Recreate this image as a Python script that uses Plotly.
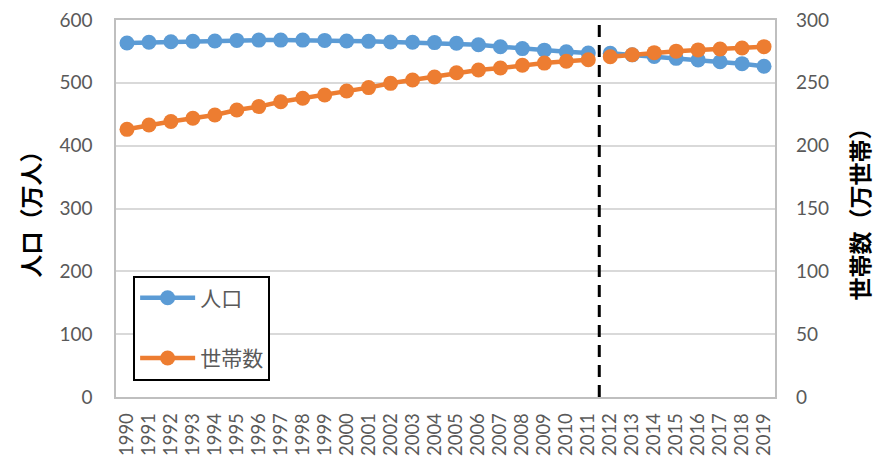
import plotly.graph_objects as go

years = [str(y) for y in range(1990, 2020)]
population = [563.5, 564.5, 565.5, 566.0, 566.5, 567.5, 568.0, 568.0, 568.0, 567.5,
              566.5, 566.0, 565.0, 564.5, 564.0, 563.0, 560.5, 557.5, 554.5, 552.0,
              549.5, 547.5, 547.0, 544.5, 542.0, 539.0, 536.5, 533.5, 530.5, 526.5]
households = [213.0, 216.5, 219.2, 221.8, 224.4, 228.4, 231.1, 235.0, 237.7, 240.3,
              243.5, 246.2, 249.6, 252.3, 254.6, 258.0, 260.2, 261.8, 264.0, 265.7,
              267.2, 268.4, 270.8, 272.4, 274.0, 275.2, 276.2, 276.9, 277.7, 278.8]
split_year = "2012"
pop_name = "人口"
hh_name = "世帯数"
left_title = "人口（万人）"
right_title = "世帯数（万世帯）"

blue = "#5B9BD5"
orange = "#ED7D31"
font = "Lato, 'Noto Sans CJK JP', sans-serif"
cjk = "'Noto Sans CJK JP', sans-serif"

k = years.index(split_year)

fig = go.Figure()
segments = [(0, k), (k, len(years))]
for series, name, color, axis in [(population, pop_name, blue, "y"), (households, hh_name, orange, "y2")]:
    for i, (a, b) in enumerate(segments):
        fig.add_trace(go.Scatter(
            x=years[a:b], y=series[a:b], name=name, yaxis=axis,
            mode="lines+markers", legendgroup=name, showlegend=(i == 0),
            line=dict(color=color, width=4.5),
            marker=dict(color=color, size=15),
        ))

fig.add_shape(type="line", xref="x", yref="paper", x0=k - 0.5, x1=k - 0.5, y0=0, y1=1,
              line=dict(color="black", width=3, dash="12px,8px"))

fig.update_layout(
    width=877, height=461,
    margin=dict(l=116, r=102, t=20, b=64),
    paper_bgcolor="white", plot_bgcolor="white",
    font=dict(family=font, color="#595959", size=19),
    showlegend=True,
    legend=dict(x=0.026, y=0.322, xanchor="left", yanchor="top",
                bgcolor="white", bordercolor="black", borderwidth=2,
                font=dict(family=cjk, size=21, color="#595959"),
                traceorder="grouped", tracegroupgap=30,
                itemwidth=55, entrywidth=140),
    xaxis=dict(type="category", range=[-0.5, len(years) - 0.5], tickangle=-90,
               tickmode="array", tickvals=years, ticktext=years, automargin=False,
               showgrid=False, showline=True, linecolor="#bfbfbf", linewidth=1.5, mirror=True,
               ticks="", tickfont=dict(size=18.5), ticklabelstandoff=7),
    yaxis=dict(range=[0, 600], dtick=100, showgrid=True, gridcolor="#d9d9d9", gridwidth=1.5,
               showline=True, linecolor="#bfbfbf", linewidth=1.5, mirror=True, zeroline=False,
               ticks="", ticklabelstandoff=18, automargin=False,
               title=dict(text=left_title, font=dict(family=cjk, size=23, color="black", weight="bold"), standoff=12)),
    yaxis2=dict(range=[0, 300], dtick=50, overlaying="y", side="right", showgrid=False,
                zeroline=False, ticks="", ticklabelstandoff=20, automargin=False,
                title=dict(text=right_title, font=dict(family=cjk, size=23, color="black", weight="bold"), standoff=24)),
)

fig.write_html("out.html")
